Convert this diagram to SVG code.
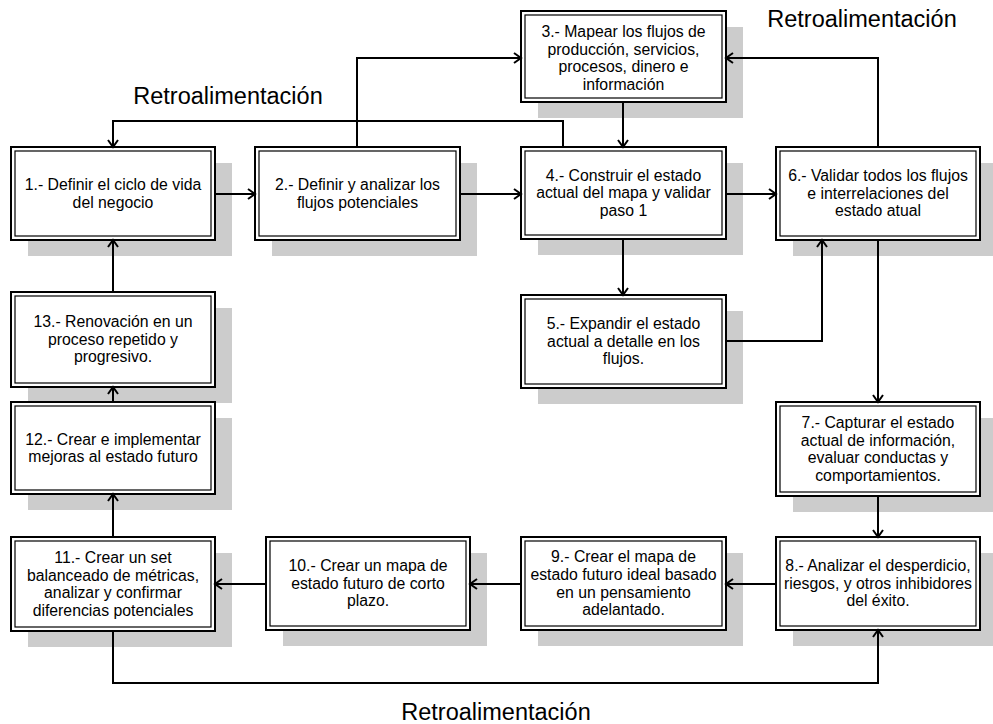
<svg xmlns="http://www.w3.org/2000/svg" width="993" height="724" viewBox="0 0 993 724">
<style>
.sh{fill:#cccccc}
.ob{fill:#ffffff;stroke:#000;stroke-width:2}
.ib{fill:none;stroke:#000;stroke-width:1.2}
.t{font-family:"Liberation Sans",Arial,sans-serif;font-size:15.8px;fill:#000;text-anchor:middle}
.lb{font-family:"Liberation Sans",Arial,sans-serif;font-size:23.5px;fill:#000;text-anchor:middle}
.c{fill:none;stroke:#000;stroke-width:2;marker-end:url(#a)}
.cn{fill:none;stroke:#000;stroke-width:2}
</style>
<defs>
<marker id="a" markerWidth="12" markerHeight="12" refX="10" refY="6" orient="auto" markerUnits="userSpaceOnUse">
<path d="M3,1 L10,6 L3,11" fill="none" stroke="#000" stroke-width="2"/>
</marker>
</defs>
<rect width="993" height="724" fill="#ffffff"/>
<g id="node1"><rect class="sh" x="28" y="163" width="204" height="93"/><rect class="ob" x="11" y="147" width="204" height="93"/><rect class="ib" x="15" y="151" width="196" height="85"/>
<text class="t" x="113" y="190.2">1.- Definir el ciclo de vida</text><text class="t" x="113" y="207.8">del negocio</text></g>
<g id="node2"><rect class="sh" x="272" y="163" width="205" height="93"/><rect class="ob" x="255" y="147" width="205" height="93"/><rect class="ib" x="259" y="151" width="197" height="85"/>
<text class="t" x="357.5" y="190.2">2.- Definir y analizar los</text><text class="t" x="357.5" y="207.8">flujos potenciales</text></g>
<g id="node3"><rect class="sh" x="538" y="27" width="205" height="91"/><rect class="ob" x="521" y="11" width="205" height="91"/><rect class="ib" x="525" y="15" width="197" height="83"/>
<text class="t" x="623.5" y="37">3.- Mapear los flujos de</text><text class="t" x="623.5" y="54.6">producción, servicios,</text><text class="t" x="623.5" y="72.2">procesos, dinero e</text><text class="t" x="623.5" y="89.8">información</text></g>
<g id="node4"><rect class="sh" x="538" y="163" width="205" height="92"/><rect class="ob" x="521" y="147" width="205" height="92"/><rect class="ib" x="525" y="151" width="197" height="84"/>
<text class="t" x="623.5" y="180.7">4.- Construir el estado</text><text class="t" x="623.5" y="198.3">actual del mapa y validar</text><text class="t" x="623.5" y="215.9">paso 1</text></g>
<g id="node5"><rect class="sh" x="538" y="311" width="205" height="93"/><rect class="ob" x="521" y="295" width="205" height="93"/><rect class="ib" x="525" y="299" width="197" height="85"/>
<text class="t" x="623.5" y="329.2">5.- Expandir el estado</text><text class="t" x="623.5" y="346.8">actual a detalle en los</text><text class="t" x="623.5" y="364.4">flujos.</text></g>
<g id="node6"><rect class="sh" x="793" y="163" width="204" height="93"/><rect class="ob" x="776" y="147" width="204" height="93"/><rect class="ib" x="780" y="151" width="196" height="85"/>
<text class="t" x="878" y="181.2">6.- Validar todos los flujos</text><text class="t" x="878" y="198.8">e interrelaciones del</text><text class="t" x="878" y="216.4">estado atual</text></g>
<g id="node7"><rect class="sh" x="793" y="418" width="204" height="94"/><rect class="ob" x="776" y="402" width="204" height="94"/><rect class="ib" x="780" y="406" width="196" height="86"/>
<text class="t" x="878" y="428">7.- Capturar el estado</text><text class="t" x="878" y="445.6">actual de información,</text><text class="t" x="878" y="463.2">evaluar conductas y</text><text class="t" x="878" y="480.8">comportamientos.</text></g>
<g id="node8"><rect class="sh" x="793" y="553" width="204" height="93"/><rect class="ob" x="776" y="537" width="204" height="93"/><rect class="ib" x="780" y="541" width="196" height="85"/>
<text class="t" x="878" y="571.2">8.- Analizar el desperdicio,</text><text class="t" x="878" y="588.8">riesgos, y otros inhibidores</text><text class="t" x="878" y="606.4">del éxito.</text></g>
<g id="node9"><rect class="sh" x="538" y="553" width="205" height="93"/><rect class="ob" x="521" y="537" width="205" height="93"/><rect class="ib" x="525" y="541" width="197" height="85"/>
<text class="t" x="623.5" y="562.4">9.- Crear el mapa de</text><text class="t" x="623.5" y="580">estado futuro ideal basado</text><text class="t" x="623.5" y="597.6">en un pensamiento</text><text class="t" x="623.5" y="615.2">adelantado.</text></g>
<g id="node10"><rect class="sh" x="283" y="553" width="204" height="93"/><rect class="ob" x="266" y="537" width="204" height="93"/><rect class="ib" x="270" y="541" width="196" height="85"/>
<text class="t" x="368" y="571.2">10.- Crear un mapa de</text><text class="t" x="368" y="588.8">estado futuro de corto</text><text class="t" x="368" y="606.4">plazo.</text></g>
<g id="node11"><rect class="sh" x="28" y="553" width="204" height="94"/><rect class="ob" x="11" y="537" width="204" height="94"/><rect class="ib" x="15" y="541" width="196" height="86"/>
<text class="t" x="113" y="563">11.- Crear un set</text><text class="t" x="113" y="580.6">balanceado de métricas,</text><text class="t" x="113" y="598.2">analizar y confirmar</text><text class="t" x="113" y="615.8">diferencias potenciales</text></g>
<g id="node13"><rect class="sh" x="28" y="308" width="204" height="95"/><rect class="ob" x="11" y="292" width="204" height="95"/><rect class="ib" x="15" y="296" width="196" height="87"/>
<text class="t" x="113" y="327.2">13.- Renovación en un</text><text class="t" x="113" y="344.8">proceso repetido y</text><text class="t" x="113" y="362.4">progresivo.</text></g>
<g id="node12"><rect class="sh" x="28" y="418" width="204" height="92"/><rect class="ob" x="11" y="402" width="204" height="92"/><rect class="ib" x="15" y="406" width="196" height="84"/>
<text class="t" x="113" y="444.7">12.- Crear e implementar</text><text class="t" x="113" y="462.3">mejoras al estado futuro</text></g>
<g id="connectors">
<path class="c" d="M215,194 H255"/>
<path class="c" d="M460,194 H521"/>
<path class="c" d="M726,194 H776"/>
<path class="c" d="M357,147 V58 H521"/>
<path class="c" d="M878,147 V58 H726"/>
<path class="c" d="M623,102 V147"/>
<path class="c" d="M563,147 V121 H113 V147"/>
<path class="c" d="M623,239 V295"/>
<path class="c" d="M726,341 H822 V240"/>
<path class="c" d="M878,240 V402"/>
<path class="c" d="M878,496 V537"/>
<path class="c" d="M776,584 H726"/>
<path class="c" d="M521,584 H470"/>
<path class="c" d="M266,584 H215"/>
<path class="c" d="M113,537 V494"/>
<path class="c" d="M113,402 V387"/>
<path class="c" d="M113,292 V240"/>
<path class="c" d="M113,631 V683 H878 V630"/>
</g>
<g id="labels">
<text class="lb" x="228" y="103.5">Retroalimentación</text>
<text class="lb" x="862" y="26.5">Retroalimentación</text>
<text class="lb" x="496" y="720">Retroalimentación</text>
</g>
</svg>
